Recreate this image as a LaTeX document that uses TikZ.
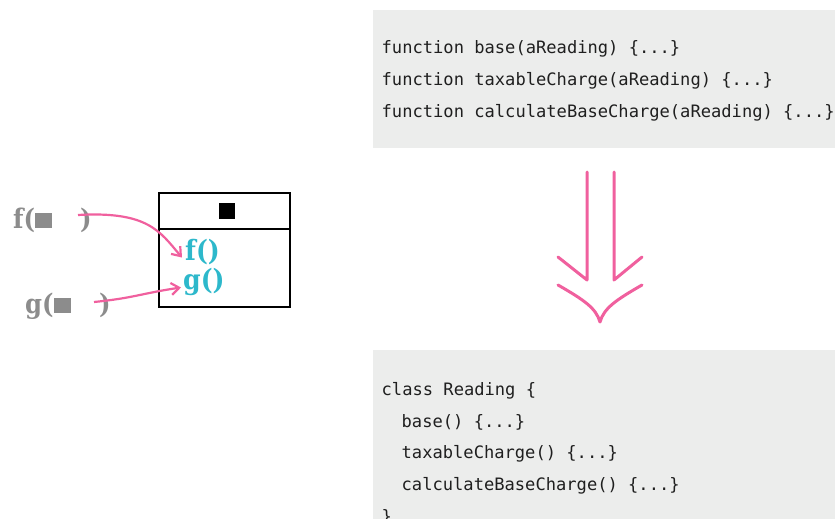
\documentclass[tikz,border=0pt]{standalone}
\usepackage{fontspec}
\newfontfamily\codefont{DejaVu Sans Mono}
\newfontfamily\slabfont{DejaVu Serif Condensed}
\usetikzlibrary{arrows.meta,positioning}
\definecolor{codebg}{HTML}{ECEDEC}
\definecolor{hotpink}{HTML}{F0609E}
\definecolor{methodcyan}{HTML}{2DB8CB}
\definecolor{labelgray}{HTML}{8C8C8C}
\tikzset{
  codeline/.style={anchor=base west, inner sep=0pt, font=\codefont\fontsize{17.1}{17}\selectfont, text=black!88},
  callname/.style={anchor=base west, inner sep=0pt, text=labelgray, font=\slabfont\bfseries\fontsize{27}{27}\selectfont},
  methodname/.style={anchor=base west, inner sep=0pt, text=methodcyan, font=\slabfont\bfseries\fontsize{28}{28}\selectfont},
  objbox/.style={draw, line width=1.8pt, outer sep=0pt, minimum width=131pt},
  callarrow/.style={hotpink, line width=2.2pt, -{Straight Barb[length=8pt,width=12pt]}},
  bigarrow/.style={hotpink, line width=3pt, line cap=round, line join=round}
}
\newcommand{\graysq}{\rule{17pt}{15pt}}

\begin{document}
\begin{tikzpicture}[x=1pt,y=-1pt]
\useasboundingbox (0,0) rectangle (835,519);
\clip (0,0) rectangle (835,519);

% code before
\fill[codebg] (373,10) rectangle (835,148);
\node[codeline] (fbase) at (381.5,53) {function base(aReading) \{...\}};
\node[codeline] (ftax) at (381.5,85) {function taxableCharge(aReading) \{...\}};
\node[codeline] (fcalc) at (381.5,117) {function calculateBaseCharge(aReading) \{...\}};

% code after
\fill[codebg] (373,350) rectangle (835,519);
\node[codeline] (cls) at (381.5,395) {class Reading \{};
\node[codeline] (mbase) at (401.5,427) {base() \{...\}};
\node[codeline] (mtax) at (401.5,458) {taxableCharge() \{...\}};
\node[codeline] (mcalc) at (401.5,490) {calculateBaseCharge() \{...\}};
\node[codeline] (clsend) at (381.5,522) {\}};

% refactoring arrow
\draw[bigarrow] (558,257) -- (587,280) -- (587,172);
\draw[bigarrow] (642,257) -- (614,280) -- (614,172);
\draw[bigarrow] (558,285) .. controls (584,300) and (596,308) .. (600,322)
  .. controls (604,308) and (616,300) .. (642,285);

% object with its methods
\node[objbox, minimum height=36pt] (head) at (224.5,211) {};
\node[objbox, minimum height=78pt, below=0pt of head] (body) {};
\node[fill=black, minimum size=16pt, inner sep=0pt] (data) at ([xshift=2.5pt]head.center) {};
\node[methodname] (fm) at (185,260) {f()};
\node[methodname] (gm) at (183,289) {g()};

% free functions
\node[callname] (fcall) at (13,228) {f(\graysq};
\node[callname] (fclose) at (80,228) {)};
\node[callname] (gcall) at (25,313) {g(\graysq};
\node[callname] (gclose) at (99,313) {)};
\coordinate (fin) at (78,215);
\coordinate (gin) at (94,302);

\draw[callarrow] (fin) .. controls +(70,-4) and +(-22,-26) .. ([xshift=-3pt,yshift=-6pt]fm.west);
\draw[callarrow] (gin) .. controls +(40,-4) and +(-40,6) .. ([xshift=-2pt,yshift=-6pt]gm.west);
\end{tikzpicture}
\end{document}
